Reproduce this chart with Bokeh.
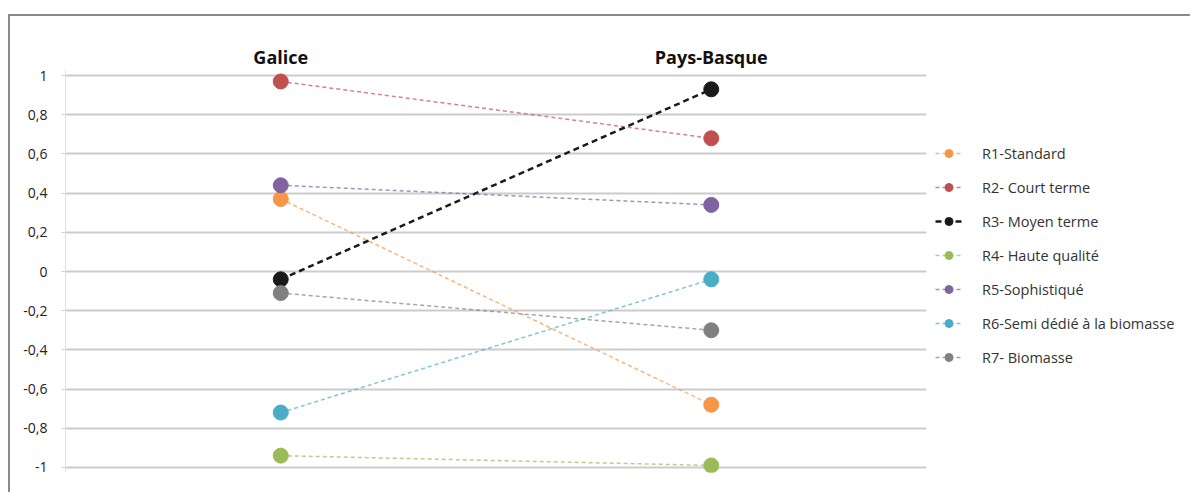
from bokeh.plotting import figure
from bokeh.layouts import row
from bokeh.models import Legend, LegendItem, FixedTicker, ColumnDataSource, Range1d
from bokeh.embed import file_html
from bokeh.resources import INLINE

regions = ["Galice", "Pays-Basque"]
series_names = ["R1-Standard", "R2- Court terme", "R3- Moyen terme", "R4- Haute qualité",
                "R5-Sophistiqué", "R6-Semi dédié à la biomasse", "R7- Biomasse"]
galice = [0.37, 0.97, -0.04, -0.94, 0.44, -0.72, -0.11]
pays_basque = [-0.68, 0.68, 0.93, -0.99, 0.34, -0.04, -0.30]
colors = ["#F79646", "#C0504D", "#1a1a1a", "#9BBB59", "#8064A2", "#4BACC6", "#808080"]
y_ticks = [-1, -0.8, -0.6, -0.4, -0.2, 0, 0.2, 0.4, 0.6, 0.8, 1]
y_tick_labels = ["-1", "-0,8", "-0,6", "-0,4", "-0,2", "0", "0,2", "0,4", "0,6", "0,8", "1"]

H = 476
p = figure(width=920, height=H, x_range=regions, y_range=(-1.026, 1.026),
           output_backend="svg", toolbar_location=None, x_axis_location="above",
           min_border_left=55, min_border_right=4, min_border_top=54, min_border_bottom=20)
p.outline_line_color = None

lg = figure(width=260, height=H, x_range=regions, y_range=Range1d(5, 6),
            output_backend="svg", toolbar_location=None,
            min_border_left=0, min_border_right=0, min_border_top=0, min_border_bottom=0)
lg.axis.visible = False
lg.grid.visible = False
lg.outline_line_color = None

items = []
for i, name in enumerate(series_names):
    src = ColumnDataSource(dict(x=regions, y=[galice[i], pays_basque[i]]))
    if i == 2:
        style = dict(line_color=colors[i], line_width=2.5, line_dash="6 4")
    else:
        style = dict(line_color=colors[i], line_width=1.5, line_dash="4 3", line_alpha=0.7)
    p.line("x", "y", source=src, **style)
    p.scatter("x", "y", source=src, size=15, fill_color=colors[i], line_color=colors[i])
    # legend-only copies (outside the visible range) in the side figure
    ln = lg.line("x", "y", source=src, **style)
    sc = lg.scatter("x", "y", source=src, size=10, fill_color=colors[i], line_color=colors[i])
    items.append(LegendItem(label=name, renderers=[ln, sc]))

legend = Legend(items=items, location=(5, 105), padding=0, margin=0, spacing=14,
                glyph_width=27, glyph_height=20, label_standoff=20,
                label_text_font_size="14.5px",
                label_text_font="Open Sans", label_text_color="#333333",
                background_fill_alpha=0, border_line_color=None)
lg.add_layout(legend)

p.yaxis.ticker = FixedTicker(ticks=y_ticks)
p.yaxis.major_label_overrides = {t: l for t, l in zip(y_ticks, y_tick_labels)}
p.yaxis.major_label_text_font = "Open Sans"
p.yaxis.major_label_text_font_size = "14px"
p.yaxis.major_label_text_color = "#222222"
p.yaxis.axis_line_color = "#e0e0e0"
p.yaxis.major_tick_line_color = "#d0d0d0"
p.yaxis.major_tick_out = 4
p.yaxis.major_tick_in = 0
p.yaxis.minor_tick_line_color = None
p.yaxis.major_label_standoff = 14

p.xaxis.axis_line_color = None
p.xaxis.major_tick_line_color = None
p.xaxis.major_tick_out = 0
p.xaxis.major_tick_in = 0
p.xaxis.major_label_text_font = "Open Sans"
p.xaxis.major_label_text_font_style = "bold"
p.xaxis.major_label_text_font_size = "18px"
p.xaxis.major_label_text_color = "#111111"
p.xaxis.major_label_standoff = 2

p.xgrid.grid_line_color = None
p.ygrid.grid_line_color = "#cccccc"
p.ygrid.grid_line_width = 2

layout = row(p, lg, styles={"border-top": "2px solid #8a8a8a", "border-left": "2px solid #8a8a8a",
                            "margin-top": "14px", "margin-left": "8px"})

open("out.html", "w").write(file_html(layout, INLINE))
